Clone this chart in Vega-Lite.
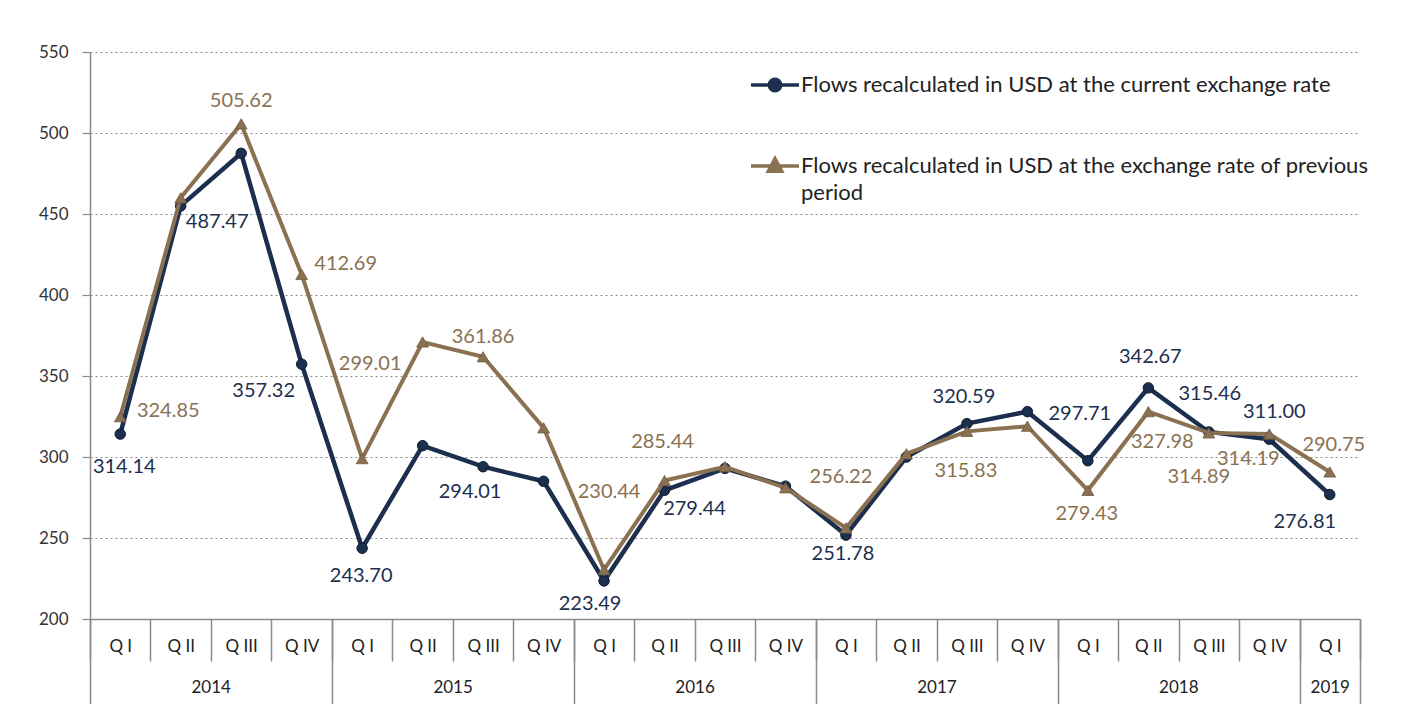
{
  "$schema": "https://vega.github.io/schema/vega-lite/v6.json",
  "width": 1270,
  "height": 567,
  "autosize": {"type": "none"},
  "padding": {"left": 90, "top": 52, "right": 66, "bottom": 85},
  "background": "white",
  "config": {
    "view": {"stroke": null},
    "axis": {"labelFont": "Lato", "titleFont": "Lato"},
    "legend": {"labelFont": "Lato"},
    "text": {"font": "Lato", "fontSize": 20}
  },
  "data": {
    "values": [
      {"period": "2014 Q I", "s": "current", "value": 314.14},
      {"period": "2014 Q II", "s": "current", "value": 455},
      {"period": "2014 Q III", "s": "current", "value": 487.47},
      {"period": "2014 Q IV", "s": "current", "value": 357.32},
      {"period": "2015 Q I", "s": "current", "value": 243.70},
      {"period": "2015 Q II", "s": "current", "value": 307},
      {"period": "2015 Q III", "s": "current", "value": 294.01},
      {"period": "2015 Q IV", "s": "current", "value": 285},
      {"period": "2016 Q I", "s": "current", "value": 223.49},
      {"period": "2016 Q II", "s": "current", "value": 279.44},
      {"period": "2016 Q III", "s": "current", "value": 293},
      {"period": "2016 Q IV", "s": "current", "value": 282},
      {"period": "2017 Q I", "s": "current", "value": 251.78},
      {"period": "2017 Q II", "s": "current", "value": 300},
      {"period": "2017 Q III", "s": "current", "value": 320.59},
      {"period": "2017 Q IV", "s": "current", "value": 328},
      {"period": "2018 Q I", "s": "current", "value": 297.71},
      {"period": "2018 Q II", "s": "current", "value": 342.67},
      {"period": "2018 Q III", "s": "current", "value": 315.46},
      {"period": "2018 Q IV", "s": "current", "value": 311.00},
      {"period": "2019 Q I", "s": "current", "value": 276.81},
      {"period": "2014 Q I", "s": "previous", "value": 324.85},
      {"period": "2014 Q II", "s": "previous", "value": 460},
      {"period": "2014 Q III", "s": "previous", "value": 505.62},
      {"period": "2014 Q IV", "s": "previous", "value": 412.69},
      {"period": "2015 Q I", "s": "previous", "value": 299.01},
      {"period": "2015 Q II", "s": "previous", "value": 371},
      {"period": "2015 Q III", "s": "previous", "value": 361.86},
      {"period": "2015 Q IV", "s": "previous", "value": 318},
      {"period": "2016 Q I", "s": "previous", "value": 230.44},
      {"period": "2016 Q II", "s": "previous", "value": 285.44},
      {"period": "2016 Q III", "s": "previous", "value": 294},
      {"period": "2016 Q IV", "s": "previous", "value": 281},
      {"period": "2017 Q I", "s": "previous", "value": 256.22},
      {"period": "2017 Q II", "s": "previous", "value": 302},
      {"period": "2017 Q III", "s": "previous", "value": 315.83},
      {"period": "2017 Q IV", "s": "previous", "value": 319},
      {"period": "2018 Q I", "s": "previous", "value": 279.43},
      {"period": "2018 Q II", "s": "previous", "value": 327.98},
      {"period": "2018 Q III", "s": "previous", "value": 314.89},
      {"period": "2018 Q IV", "s": "previous", "value": 314.19},
      {"period": "2019 Q I", "s": "previous", "value": 290.75}
    ]
  },
  "encoding": {
    "x": {
      "field": "period", "type": "ordinal",
      "scale": {"type": "band", "paddingInner": 0, "paddingOuter": 0,
        "domain": ["2014 Q I","2014 Q II","2014 Q III","2014 Q IV","2015 Q I","2015 Q II","2015 Q III","2015 Q IV","2016 Q I","2016 Q II","2016 Q III","2016 Q IV","2017 Q I","2017 Q II","2017 Q III","2017 Q IV","2018 Q I","2018 Q II","2018 Q III","2018 Q IV","2019 Q I"]},
      "axis": null
    },
    "y": {
      "field": "value", "type": "quantitative",
      "scale": {"domain": [200, 550], "nice": false, "zero": false},
      "axis": {
        "title": null, "values": [200, 250, 300, 350, 400, 450, 500, 550],
        "grid": true, "gridDash": [2, 3], "gridColor": "#8a8a8a", "gridWidth": 1.2,
        "domainColor": "#8a8a8a", "domainWidth": 1.5,
        "tickColor": "#8a8a8a", "tickSize": 8, "tickWidth": 1.2,
        "labelFontSize": 17, "labelColor": "#333333", "labelPadding": 14
      }
    },
    "color": {
      "field": "s", "type": "nominal",
      "scale": {"domain": ["current", "previous"], "range": ["#1d2f4e", "#8a7152"]},
      "legend": {
        "orient": "none", "legendX": 659, "legendY": 7, "title": null, "padding": 0,
        "rowPadding": 42, "symbolSize": 2304, "symbolStrokeWidth": 3, "symbolType": "circle",
        "labelFontSize": 22, "labelColor": "#222222", "labelLimit": 800, "labelOffset": 0,
        "labelExpr": "datum.value == 'current' ? 'Flows recalculated in USD at the current exchange rate' : ['Flows recalculated in USD at the exchange rate of previous', 'period']",
        "encode": {
          "symbols": {"update": {
            "shape": {"signal": "datum.value == 'current' ? 'M-1,0L1,0M-0.24,0A0.24,0.24 0 1,1 0.24,0A0.24,0.24 0 1,1 -0.24,0Z' : 'M-1,0L1,0M-0.28,0.22L0,-0.3L0.28,0.22Z'"},
            "fill": {"signal": "datum.value == 'current' ? '#1d2f4e' : '#8a7152'"},
            "stroke": {"signal": "datum.value == 'current' ? '#1d2f4e' : '#8a7152'"},
            "strokeWidth": {"value": 3.5},
            "opacity": {"value": 1}
          }},
          "labels": {"update": {
            "lineHeight": {"value": 27}
          }}
        }
      }
    }
  },
  "layer": [
    {
      "transform": [{"filter": {"field": "s", "equal": "current"}}],
      "mark": {"type": "line", "strokeWidth": 4.5},
      "encoding": {
        "x": {
          "field": "period", "type": "ordinal",
          "scale": {"type": "band", "paddingInner": 0, "paddingOuter": 0},
          "axis": {
            "orient": "bottom", "offset": 0,
            "title": null, "tickBand": "extent", "tickSize": 42, "tickColor": "#8a8a8a", "tickWidth": 1.5,
            "domainColor": "#8a8a8a", "domainWidth": 1.5, "grid": false,
            "labelExpr": "datum.value ? slice(datum.value, 5) : ''",
            "labelAngle": 0, "labelFontSize": 17, "labelColor": "#222222", "labelPadding": -23
          }
        }
      }
    },
    {
      "transform": [{"filter": {"field": "s", "equal": "current"}}],
      "mark": {"type": "point", "filled": true, "shape": "circle", "size": 110, "opacity": 1, "stroke": "#0e1a30", "strokeWidth": 1}
    },
    {
      "transform": [{"filter": {"field": "s", "equal": "previous"}}],
      "mark": {"type": "line", "strokeWidth": 4},
      "encoding": {
        "x": {
          "field": "period", "type": "ordinal",
          "scale": {"type": "band", "paddingInner": 0, "paddingOuter": 0},
          "axis": {
            "orient": "bottom", "offset": 0,
            "title": null, "tickBand": "extent", "tickSize": 85, "tickColor": "#8a8a8a", "tickWidth": 1.5,
            "tickOpacity": {"condition": {"test": "datum.extra || datum.index < 0 || (datum.value && (slice(datum.value, 5) == 'Q IV' || datum.value == '2019 Q I'))", "value": 1}, "value": 0},
            "domain": false, "grid": false,
            "labelExpr": "datum.value == '2019 Q I' ? '2019' : ((datum.value && slice(datum.value, 5) == 'Q II') ? slice(datum.value, 0, 4) : '')",
            "labelOffset": {"condition": {"test": "datum.value == '2019 Q I'", "value": 0}, "value": 30},
            "labelAngle": 0, "labelFontSize": 17, "labelColor": "#222222", "labelPadding": -25
          }
        }
      }
    },
    {
      "transform": [{"filter": {"field": "s", "equal": "previous"}}],
      "mark": {"type": "point", "filled": true, "shape": "triangle-up", "size": 140, "opacity": 1, "stroke": "#6e5a40", "strokeWidth": 0.8}
    },
    {"transform": [{"filter": {"and": [{"field": "s", "equal": "current"}, {"field": "period", "equal": "2014 Q I"}]}}],
     "mark": {"type": "text", "dx": 4, "dy": 33}, "encoding": {"text": {"field": "value", "format": ".2f"}, "color": {"value": "#1d2f4e"}}},
    {"transform": [{"filter": {"and": [{"field": "s", "equal": "current"}, {"field": "period", "equal": "2014 Q III"}]}}],
     "mark": {"type": "text", "dx": -24, "dy": 69}, "encoding": {"text": {"field": "value", "format": ".2f"}, "color": {"value": "#1d2f4e"}}},
    {"transform": [{"filter": {"and": [{"field": "s", "equal": "current"}, {"field": "period", "equal": "2014 Q IV"}]}}],
     "mark": {"type": "text", "dx": -38, "dy": 27}, "encoding": {"text": {"field": "value", "format": ".2f"}, "color": {"value": "#1d2f4e"}}},
    {"transform": [{"filter": {"and": [{"field": "s", "equal": "current"}, {"field": "period", "equal": "2015 Q I"}]}}],
     "mark": {"type": "text", "dx": -1, "dy": 28}, "encoding": {"text": {"field": "value", "format": ".2f"}, "color": {"value": "#1d2f4e"}}},
    {"transform": [{"filter": {"and": [{"field": "s", "equal": "current"}, {"field": "period", "equal": "2015 Q III"}]}}],
     "mark": {"type": "text", "dx": -13, "dy": 25}, "encoding": {"text": {"field": "value", "format": ".2f"}, "color": {"value": "#1d2f4e"}}},
    {"transform": [{"filter": {"and": [{"field": "s", "equal": "current"}, {"field": "period", "equal": "2016 Q I"}]}}],
     "mark": {"type": "text", "dx": -14, "dy": 23}, "encoding": {"text": {"field": "value", "format": ".2f"}, "color": {"value": "#1d2f4e"}}},
    {"transform": [{"filter": {"and": [{"field": "s", "equal": "current"}, {"field": "period", "equal": "2016 Q II"}]}}],
     "mark": {"type": "text", "dx": 30, "dy": 19}, "encoding": {"text": {"field": "value", "format": ".2f"}, "color": {"value": "#1d2f4e"}}},
    {"transform": [{"filter": {"and": [{"field": "s", "equal": "current"}, {"field": "period", "equal": "2017 Q I"}]}}],
     "mark": {"type": "text", "dx": -3, "dy": 19}, "encoding": {"text": {"field": "value", "format": ".2f"}, "color": {"value": "#1d2f4e"}}},
    {"transform": [{"filter": {"and": [{"field": "s", "equal": "current"}, {"field": "period", "equal": "2017 Q III"}]}}],
     "mark": {"type": "text", "dx": -3, "dy": -27}, "encoding": {"text": {"field": "value", "format": ".2f"}, "color": {"value": "#1d2f4e"}}},
    {"transform": [{"filter": {"and": [{"field": "s", "equal": "current"}, {"field": "period", "equal": "2018 Q I"}]}}],
     "mark": {"type": "text", "dx": -8, "dy": -47}, "encoding": {"text": {"field": "value", "format": ".2f"}, "color": {"value": "#1d2f4e"}}},
    {"transform": [{"filter": {"and": [{"field": "s", "equal": "current"}, {"field": "period", "equal": "2018 Q II"}]}}],
     "mark": {"type": "text", "dx": 2, "dy": -31}, "encoding": {"text": {"field": "value", "format": ".2f"}, "color": {"value": "#1d2f4e"}}},
    {"transform": [{"filter": {"and": [{"field": "s", "equal": "current"}, {"field": "period", "equal": "2018 Q III"}]}}],
     "mark": {"type": "text", "dx": 1, "dy": -38}, "encoding": {"text": {"field": "value", "format": ".2f"}, "color": {"value": "#1d2f4e"}}},
    {"transform": [{"filter": {"and": [{"field": "s", "equal": "current"}, {"field": "period", "equal": "2018 Q IV"}]}}],
     "mark": {"type": "text", "dx": 5, "dy": -27}, "encoding": {"text": {"field": "value", "format": ".2f"}, "color": {"value": "#1d2f4e"}}},
    {"transform": [{"filter": {"and": [{"field": "s", "equal": "current"}, {"field": "period", "equal": "2019 Q I"}]}}],
     "mark": {"type": "text", "dx": -25, "dy": 27}, "encoding": {"text": {"field": "value", "format": ".2f"}, "color": {"value": "#1d2f4e"}}},
    {"transform": [{"filter": {"and": [{"field": "s", "equal": "previous"}, {"field": "period", "equal": "2014 Q I"}]}}],
     "mark": {"type": "text", "dx": 48, "dy": -6}, "encoding": {"text": {"field": "value", "format": ".2f"}, "color": {"value": "#8a7152"}}},
    {"transform": [{"filter": {"and": [{"field": "s", "equal": "previous"}, {"field": "period", "equal": "2014 Q III"}]}}],
     "mark": {"type": "text", "dx": 0, "dy": -23}, "encoding": {"text": {"field": "value", "format": ".2f"}, "color": {"value": "#8a7152"}}},
    {"transform": [{"filter": {"and": [{"field": "s", "equal": "previous"}, {"field": "period", "equal": "2014 Q IV"}]}}],
     "mark": {"type": "text", "dx": 44, "dy": -10}, "encoding": {"text": {"field": "value", "format": ".2f"}, "color": {"value": "#8a7152"}}},
    {"transform": [{"filter": {"and": [{"field": "s", "equal": "previous"}, {"field": "period", "equal": "2015 Q I"}]}}],
     "mark": {"type": "text", "dx": 8, "dy": -95}, "encoding": {"text": {"field": "value", "format": ".2f"}, "color": {"value": "#8a7152"}}},
    {"transform": [{"filter": {"and": [{"field": "s", "equal": "previous"}, {"field": "period", "equal": "2015 Q III"}]}}],
     "mark": {"type": "text", "dx": 0, "dy": -20}, "encoding": {"text": {"field": "value", "format": ".2f"}, "color": {"value": "#8a7152"}}},
    {"transform": [{"filter": {"and": [{"field": "s", "equal": "previous"}, {"field": "period", "equal": "2016 Q I"}]}}],
     "mark": {"type": "text", "dx": 5, "dy": -78}, "encoding": {"text": {"field": "value", "format": ".2f"}, "color": {"value": "#8a7152"}}},
    {"transform": [{"filter": {"and": [{"field": "s", "equal": "previous"}, {"field": "period", "equal": "2016 Q II"}]}}],
     "mark": {"type": "text", "dx": -2, "dy": -39}, "encoding": {"text": {"field": "value", "format": ".2f"}, "color": {"value": "#8a7152"}}},
    {"transform": [{"filter": {"and": [{"field": "s", "equal": "previous"}, {"field": "period", "equal": "2017 Q I"}]}}],
     "mark": {"type": "text", "dx": -5, "dy": -51}, "encoding": {"text": {"field": "value", "format": ".2f"}, "color": {"value": "#8a7152"}}},
    {"transform": [{"filter": {"and": [{"field": "s", "equal": "previous"}, {"field": "period", "equal": "2017 Q III"}]}}],
     "mark": {"type": "text", "dx": -1, "dy": 40}, "encoding": {"text": {"field": "value", "format": ".2f"}, "color": {"value": "#8a7152"}}},
    {"transform": [{"filter": {"and": [{"field": "s", "equal": "previous"}, {"field": "period", "equal": "2018 Q I"}]}}],
     "mark": {"type": "text", "dx": -1, "dy": 24}, "encoding": {"text": {"field": "value", "format": ".2f"}, "color": {"value": "#8a7152"}}},
    {"transform": [{"filter": {"and": [{"field": "s", "equal": "previous"}, {"field": "period", "equal": "2018 Q II"}]}}],
     "mark": {"type": "text", "dx": 14, "dy": 30}, "encoding": {"text": {"field": "value", "format": ".2f"}, "color": {"value": "#8a7152"}}},
    {"transform": [{"filter": {"and": [{"field": "s", "equal": "previous"}, {"field": "period", "equal": "2018 Q III"}]}}],
     "mark": {"type": "text", "dx": -10, "dy": 44}, "encoding": {"text": {"field": "value", "format": ".2f"}, "color": {"value": "#8a7152"}}},
    {"transform": [{"filter": {"and": [{"field": "s", "equal": "previous"}, {"field": "period", "equal": "2018 Q IV"}]}}],
     "mark": {"type": "text", "dx": -21, "dy": 25}, "encoding": {"text": {"field": "value", "format": ".2f"}, "color": {"value": "#8a7152"}}},
    {"transform": [{"filter": {"and": [{"field": "s", "equal": "previous"}, {"field": "period", "equal": "2019 Q I"}]}}],
     "mark": {"type": "text", "dx": 4, "dy": -27}, "encoding": {"text": {"field": "value", "format": ".2f"}, "color": {"value": "#8a7152"}}}
  ],
  "resolve": {"axis": {"x": "independent"}}
}
